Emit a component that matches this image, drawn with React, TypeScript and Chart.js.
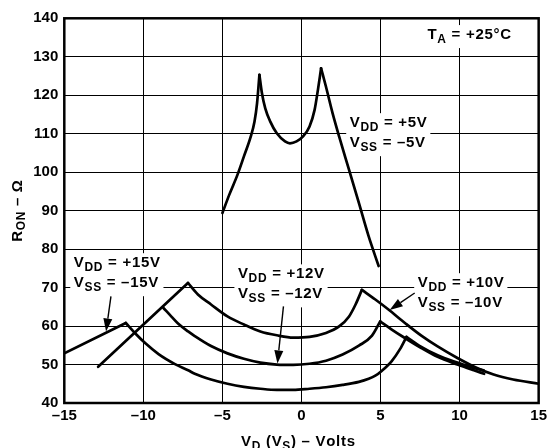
import React, { useEffect, useRef } from 'react';
import { Chart, registerables } from 'chart.js';

Chart.register(...registerables);

// ---------- data (V_D in volts, R_ON in ohms) ----------
const xTicks = [-15, -10, -5, 0, 5, 10, 15];
const yTicks = [40, 50, 60, 70, 80, 90, 100, 110, 120, 130, 140];

// VDD = +5V / VSS = -5V
const vd5 = [-5.0, -4.57, -4.05, -3.64, -3.22, -2.97, -2.81, -2.66,
  -2.5, -2.29, -1.98, -1.56, -1.04, -0.73, -0.31, 0.1, 0.51, 0.83, 1.04, 1.24,
  1.55, 1.97, 2.38, 3.01, 3.63, 4.25, 4.88];
const ron5 = [89.4, 94.1, 99.3, 104.1, 109.1, 113.2, 117.9, 125.3,
  120.5, 116.6, 113.2, 110.1, 108.0, 107.5, 108.0, 109.3, 111.9, 116.2, 121.4, 127.0,
  122.2, 115.3, 109.3, 100.6, 92.0, 83.3, 75.6];
const cusps5 = [7, 19];

// VDD = +10V / VSS = -10V
const vd10 = [-12.86, -7.18, -6.55, -5.72, -4.68, -3.64, -2.6, -1.56, -0.52, 0.51, 1.55, 2.38, 3.01, 3.42, 3.82,
  4.67, 5.5, 6.54, 7.58, 8.61, 9.86, 11.1, 12.15, 13.39, 15.0];
const ron10 = [49.4, 71.2, 68.2, 65.6, 62.5, 60.4, 58.6, 57.6, 57.0, 57.2, 58.2, 59.9, 62.5, 65.6, 69.4,
  66.9, 64.3, 60.8, 57.5, 54.7, 51.7, 49.1, 47.4, 46.1, 45.0];
const cusps10 = [1, 14];

// VDD = +12V / VSS = -12V
const vd12 = [-8.73, -8.21, -7.79, -7.17, -6.75, -5.72, -4.68, -3.64, -2.6, -1.56, -0.52, 0.51, 1.55, 2.6, 3.63, 4.46, 4.98,
  5.71, 6.54, 7.58, 8.61, 9.86, 10.9, 11.55];
const ron12 = [64.7, 62.4, 60.6, 58.6, 57.4, 54.8, 52.9, 51.5, 50.5, 50.0, 49.9, 50.2, 51.0, 52.6, 54.9, 57.5, 61.2,
  59.1, 56.9, 54.3, 52.0, 50.0, 48.5, 47.6];
const cusps12 = [16];

// VDD = +15V / VSS = -15V
const vd15 = [-15.0, -11.11, -10.49, -9.87, -9.04, -8.0, -7.17, -6.75, -5.72, -4.68, -3.64, -2.6, -1.56, -0.52, 0.51,
  1.55, 2.6, 3.63, 4.25, 4.67, 5.09, 5.71, 6.23, 6.64,
  7.58, 8.61, 9.86, 10.9, 11.52];
const ron15 = [52.9, 60.8, 58.0, 55.5, 52.7, 50.1, 48.5, 47.6, 46.1, 45.0, 44.2, 43.7, 43.4, 43.4, 43.7,
  44.1, 44.7, 45.5, 46.3, 47.1, 48.4, 50.9, 54.0, 57.2,
  54.6, 52.4, 50.5, 49.1, 48.5];
const cusps15 = [1, 23];

// ---------- annotations ----------
type Part = { t: string; sub?: boolean };
const curveLabels: { lines: Part[][]; x: number; y: number }[] = [
  { lines: [[{ t: 'V' }, { t: 'DD', sub: true }, { t: ' = +5V' }], [{ t: 'V' }, { t: 'SS', sub: true }, { t: ' = –5V' }]], x: 3.05, y: 111.7 },
  { lines: [[{ t: 'V' }, { t: 'DD', sub: true }, { t: ' = +15V' }], [{ t: 'V' }, { t: 'SS', sub: true }, { t: ' = –15V' }]], x: -14.4, y: 75.3 },
  { lines: [[{ t: 'V' }, { t: 'DD', sub: true }, { t: ' = +12V' }], [{ t: 'V' }, { t: 'SS', sub: true }, { t: ' = –12V' }]], x: -4.02, y: 72.4 },
  { lines: [[{ t: 'V' }, { t: 'DD', sub: true }, { t: ' = +10V' }], [{ t: 'V' }, { t: 'SS', sub: true }, { t: ' = –10V' }]], x: 7.35, y: 70.1 },
  { lines: [[{ t: 'T' }, { t: 'A', sub: true }, { t: ' = +25°C' }]], x: 7.97, y: 134.6 },
];
const arrows = [
  { from: [-12.05, 67.7], to: [-12.36, 58.6] },
  { from: [-1.14, 65.1], to: [-1.52, 50.3] },
  { from: [7.16, 68.6], to: [5.58, 64.2] },
];
const xTitle: Part[] = [{ t: 'V' }, { t: 'D', sub: true }, { t: ' (V' }, { t: 'S', sub: true }, { t: ') – Volts' }];
const yTitle: Part[] = [{ t: 'R' }, { t: 'ON', sub: true }, { t: ' – Ω' }];

const FONT = '"Liberation Sans", Arial, Helvetica, sans-serif';
const MAIN = 15;
const SUB = 12;
const SUB_DY = 3.5;
const LINE_GAP = 20;
const LS = 0.7;

function setFont(ctx: CanvasRenderingContext2D, sub?: boolean) {
  ctx.font = `bold ${sub ? SUB : MAIN}px ${FONT}`;
}
function richWidth(ctx: CanvasRenderingContext2D, parts: Part[]) {
  let w = 0;
  for (const p of parts) {
    setFont(ctx, p.sub);
    for (const ch of p.t) w += ctx.measureText(ch).width + LS;
  }
  return w - LS;
}
function drawRich(ctx: CanvasRenderingContext2D, parts: Part[], x: number, y: number) {
  let cx = x;
  ctx.textAlign = 'left';
  ctx.textBaseline = 'alphabetic';
  for (const p of parts) {
    setFont(ctx, p.sub);
    for (const ch of p.t) {
      ctx.fillText(ch, cx, p.sub ? y + SUB_DY : y);
      cx += ctx.measureText(ch).width + LS;
    }
  }
}

function branches(xs: number[], ys: number[], cusps: number[]) {
  const cuts = [0, ...cusps, xs.length - 1];
  const out: { x: number; y: number }[][] = [];
  for (let i = 0; i < cuts.length - 1; i++) {
    const seg: { x: number; y: number }[] = [];
    for (let j = cuts[i]; j <= cuts[i + 1]; j++) seg.push({ x: xs[j], y: ys[j] });
    if (seg.length > 1) out.push(seg);
  }
  return out;
}

const annotPlugin = {
  id: 'annot',
  beforeDatasetsDraw(chart: any) {
    const ctx = chart.ctx as CanvasRenderingContext2D;
    const xs = chart.scales.x, ys = chart.scales.y;
    ctx.save();
    for (const lab of curveLabels) {
      const px = xs.getPixelForValue(lab.x);
      const py = ys.getPixelForValue(lab.y);
      const w = Math.max(...lab.lines.map((l) => richWidth(ctx, l)));
      const lastBase = py + (lab.lines.length - 1) * LINE_GAP;
      ctx.fillStyle = '#fff';
      ctx.fillRect(px - 3.5, py - 14, w + 7, lastBase + 9 - (py - 14));
      ctx.fillStyle = '#000';
      lab.lines.forEach((l, i) => drawRich(ctx, l, px, py + i * LINE_GAP));
    }
    ctx.restore();
  },
  afterDatasetsDraw(chart: any) {
    const ctx = chart.ctx as CanvasRenderingContext2D;
    const xs = chart.scales.x, ys = chart.scales.y;
    const a = chart.chartArea;
    ctx.save();
    ctx.strokeStyle = '#000';
    ctx.fillStyle = '#000';
    ctx.lineWidth = 1.4;
    for (const ar of arrows) {
      const x1 = xs.getPixelForValue(ar.from[0]), y1 = ys.getPixelForValue(ar.from[1]);
      const x2 = xs.getPixelForValue(ar.to[0]), y2 = ys.getPixelForValue(ar.to[1]);
      const ang = Math.atan2(y2 - y1, x2 - x1);
      const L = 13, H = 4.5;
      const bx = x2 - L * Math.cos(ang), by = y2 - L * Math.sin(ang);
      ctx.beginPath();
      ctx.moveTo(x1, y1);
      ctx.lineTo(bx, by);
      ctx.stroke();
      ctx.beginPath();
      ctx.moveTo(x2, y2);
      ctx.lineTo(bx + H * Math.sin(ang), by - H * Math.cos(ang));
      ctx.lineTo(bx - H * Math.sin(ang), by + H * Math.cos(ang));
      ctx.closePath();
      ctx.fill();
    }
    ctx.lineWidth = 2.5;
    ctx.strokeRect(a.left, a.top, a.right - a.left, a.bottom - a.top);
    ctx.restore();
  },
  afterDraw(chart: any) {
    const ctx = chart.ctx as CanvasRenderingContext2D;
    ctx.save();
    ctx.fillStyle = '#000';
    const wx = richWidth(ctx, xTitle);
    drawRich(ctx, xTitle, 298 - wx / 2, 446);
    const wy = richWidth(ctx, yTitle);
    ctx.translate(21.5, 211);
    ctx.rotate(-Math.PI / 2);
    drawRich(ctx, yTitle, -wy / 2, 0);
    ctx.restore();
  },
};

const curveList = [
  branches(vd5, ron5, cusps5),
  branches(vd10, ron10, cusps10),
  branches(vd12, ron12, cusps12),
  branches(vd15, ron15, cusps15),
];

export default function App() {
  const ref = useRef<HTMLCanvasElement>(null);
  useEffect(() => {
    document.body.style.margin = '0';
    const datasets: any[] = [];
    curveList.forEach((bs) =>
      bs.forEach((seg) =>
        datasets.push({
          data: seg,
          borderColor: '#000',
          borderWidth: 2.7,
          pointRadius: 0,
          fill: false,
          cubicInterpolationMode: 'monotone',
          borderCapStyle: 'round',
          borderJoinStyle: 'round',
        })
      )
    );
    const tickFont = { family: FONT, size: 15, weight: 'bold' as const };
    const chart = new Chart(ref.current!, {
      type: 'line',
      data: { datasets },
      plugins: [annotPlugin],
      options: {
        responsive: false,
        animation: false,
        devicePixelRatio: 1,
        layout: { padding: { top: 18.3, right: 5.3, left: 0, bottom: 0 } },
        plugins: { legend: { display: false }, tooltip: { enabled: false } },
        scales: {
          x: {
            type: 'linear',
            min: xTicks[0],
            max: xTicks[xTicks.length - 1],
            afterBuildTicks: (s: any) => { s.ticks = xTicks.map((v) => ({ value: v })); },
            afterFit: (s: any) => { s.height = 45; },
            ticks: {
              color: '#000',
              font: tickFont,
              padding: 4,
              maxRotation: 0,
              autoSkip: false,
              callback: (v: any) => (v < 0 ? '–' + Math.abs(v) : String(v)),
            },
            grid: { color: '#000', lineWidth: 1, drawTicks: false },
            border: { display: false },
          },
          y: {
            type: 'linear',
            min: yTicks[0],
            max: yTicks[yTicks.length - 1],
            afterBuildTicks: (s: any) => { s.ticks = yTicks.map((v) => ({ value: v })); },
            afterFit: (s: any) => { s.width = 64.3; },
            ticks: { color: '#000', font: tickFont, padding: 6, autoSkip: false },
            grid: { color: '#000', lineWidth: 1, drawTicks: false },
            border: { display: false },
          },
        },
      },
    } as any);
    return () => chart.destroy();
  }, []);
  return (
    <canvas
      ref={ref}
      width={551}
      height={448}
      style={{ display: 'block', width: 551, height: 448 }}
    />
  );
}
